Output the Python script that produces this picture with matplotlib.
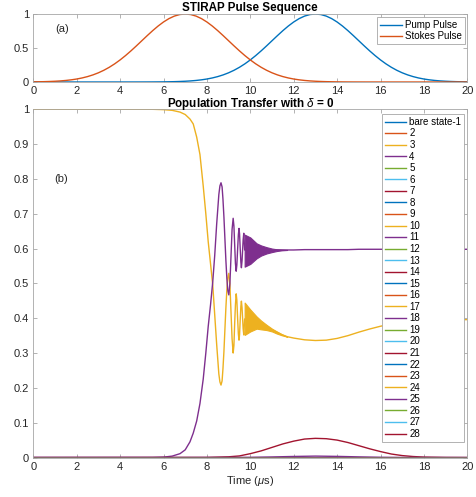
import numpy as np
import matplotlib
matplotlib.use("Agg")
import matplotlib.pyplot as plt

plt.rcParams["font.family"] = ["Liberation Sans", "DejaVu Sans"]
plt.rcParams["mathtext.fontset"] = "custom"
plt.rcParams["mathtext.it"] = "Liberation Sans:italic"
plt.rcParams["mathtext.rm"] = "Liberation Sans"

# ---------------- data ----------------
# MATLAB default colour order
colour_order = ["#0072BD", "#D95319", "#EDB120", "#7E2F8E", "#77AC30", "#4DBEEE", "#A2142F"]

# (a) pulse envelopes, sampled every 0.25 us from 0 to 20 us
t_pulse = np.linspace(0, 20, 81)
pump = [0, 0, 0, 0, 0, 0, 0, 0, 0, 0, 0, 0, 0, 0, 0, 0, 0,
        0.0001, 0.0001, 0.0002, 0.0003, 0.0005, 0.0009, 0.0014,
        0.0022, 0.0034, 0.0051, 0.0076, 0.0111, 0.0160, 0.0228, 0.0319, 0.0439, 0.0596,
        0.0796, 0.1046, 0.1353, 0.1724, 0.2163, 0.2671, 0.3247, 0.3886, 0.4578, 0.5311,
        0.6065, 0.6819, 0.7548, 0.8226, 0.8825, 0.9321, 0.9692, 0.9922, 1.0,
        0.9922, 0.9692, 0.9321, 0.8825, 0.8226, 0.7548, 0.6819, 0.6065, 0.5311, 0.4578,
        0.3886, 0.3247, 0.2671, 0.2163, 0.1724, 0.1353, 0.1046, 0.0796, 0.0596, 0.0439,
        0.0319, 0.0228, 0.0160, 0.0111, 0.0076, 0.0051, 0.0034, 0.0022]
stokes = [0.0022, 0.0034, 0.0051, 0.0076, 0.0111, 0.0160, 0.0228, 0.0319, 0.0439, 0.0596,
          0.0796, 0.1046, 0.1353, 0.1724, 0.2163, 0.2671, 0.3247, 0.3886, 0.4578, 0.5311,
          0.6065, 0.6819, 0.7548, 0.8226, 0.8825, 0.9321, 0.9692, 0.9922, 1.0,
          0.9922, 0.9692, 0.9321, 0.8825, 0.8226, 0.7548, 0.6819, 0.6065, 0.5311, 0.4578,
          0.3886, 0.3247, 0.2671, 0.2163, 0.1724, 0.1353, 0.1046, 0.0796, 0.0596, 0.0439,
          0.0319, 0.0228, 0.0160, 0.0111, 0.0076, 0.0051, 0.0034, 0.0022,
          0.0014, 0.0009, 0.0005, 0.0003, 0.0002, 0.0001, 0.0001,
          0, 0, 0, 0, 0, 0, 0, 0, 0, 0, 0, 0, 0, 0, 0, 0, 0]

# (b) populations of the states that get populated
t_main = [0.0, 5.5, 6.0, 6.4, 6.76, 7.0, 7.22, 7.37, 7.53, 7.68,
          7.83, 7.95, 8.06, 8.17, 8.27, 8.36, 8.45, 8.55, 8.60, 8.65,
          8.70, 8.74, 8.785, 8.83, 8.875, 8.92, 8.965, 9.01, 9.06, 9.11,
          9.16, 9.21, 9.245, 9.28, 9.315, 9.35, 9.38, 9.415, 9.45, 9.48,
          9.505, 9.535, 9.565, 9.59, 9.62, 9.645, 9.67, 9.70, 9.74, 10.0,
          10.29, 10.5, 10.75, 11.0, 11.22, 11.45, 11.7, 12.0, 12.5, 13.0,
          13.5, 14.0, 14.5, 15.0, 15.5, 16.0, 16.5, 17.0, 17.5, 18.0,
          19.0, 20.0]
pop_3 = [1.0, 1.0, 0.999, 0.997, 0.992, 0.985, 0.972, 0.958, 0.92, 0.87,
         0.78, 0.70, 0.62, 0.555, 0.495, 0.41, 0.325, 0.24, 0.217, 0.208,
         0.22, 0.255, 0.305, 0.368, 0.430, 0.482, 0.517, 0.529, 0.497, 0.419,
         0.341, 0.300, 0.322, 0.385, 0.439, 0.470, 0.452, 0.400, 0.355, 0.337,
         0.353, 0.396, 0.434, 0.449, 0.430, 0.400, 0.370, 0.352, 0.398, 0.393,
         0.388, 0.380, 0.373, 0.366, 0.360, 0.353, 0.347, 0.343, 0.338, 0.336,
         0.337, 0.342, 0.350, 0.360, 0.369, 0.377, 0.383, 0.388, 0.391, 0.393,
         0.395, 0.396]
pop_4 = [0, 0, 0.001, 0.004, 0.011, 0.022, 0.045, 0.07, 0.105, 0.155,
         0.225, 0.30, 0.376, 0.44, 0.505, 0.58, 0.67, 0.755, 0.78, 0.789,
         0.777, 0.742, 0.690, 0.628, 0.566, 0.514, 0.479, 0.467, 0.499, 0.577,
         0.655, 0.687, 0.665, 0.611, 0.557, 0.535, 0.553, 0.597, 0.640, 0.658,
         0.642, 0.600, 0.561, 0.545, 0.565, 0.595, 0.625, 0.644, 0.596, 0.595,
         0.594, 0.595, 0.595, 0.595, 0.596, 0.596, 0.596, 0.596, 0.597, 0.597,
         0.597, 0.597, 0.597, 0.598, 0.598, 0.598, 0.598, 0.598, 0.598, 0.598,
         0.598, 0.598]

# envelope of the fast ringing after the avoided crossing
t_band = [9.74, 10.0, 10.29, 10.5, 10.75, 11.0, 11.22, 11.45, 11.7]
pop_3_hi = [0.445, 0.425, 0.405, 0.393, 0.381, 0.370, 0.362, 0.354, 0.347]
pop_3_lo = [0.352, 0.362, 0.370, 0.368, 0.366, 0.362, 0.356, 0.351, 0.347]
pop_4_hi = [0.640, 0.632, 0.615, 0.609, 0.604, 0.600, 0.598, 0.597, 0.596]
pop_4_lo = [0.548, 0.556, 0.572, 0.580, 0.586, 0.590, 0.593, 0.595, 0.596]

t_7 = [0, 8, 9, 9.5, 10, 10.5, 11, 11.5, 12, 12.5, 13, 13.5, 14, 14.5, 15,
       15.5, 16, 16.5, 17, 17.5, 18, 19, 20]
pop_7 = [0, 0.0003, 0.002, 0.0045, 0.011, 0.019, 0.029, 0.039, 0.047, 0.053, 0.055,
         0.054, 0.050, 0.043, 0.034, 0.025, 0.017, 0.010, 0.0055, 0.0028, 0.0012,
         0.0002, 0]

t_11 = [0, 9, 10, 11, 12, 13, 14, 15, 16, 17, 20]
pop_11 = [0, 0.0002, 0.0006, 0.0016, 0.003, 0.004, 0.0032, 0.0018, 0.0007, 0.0002, 0]

# all remaining states stay empty
t_empty = [0, 20]
pop_empty = [0, 0]

n_states = 28
state_labels = ["bare state-1"] + [str(k) for k in range(2, n_states + 1)]
populated = {3: (t_main, pop_3), 4: (t_main, pop_4), 7: (t_7, pop_7), 11: (t_11, pop_11)}
bands = {3: (pop_3_lo, pop_3_hi), 4: (pop_4_lo, pop_4_hi)}

x_ticks = list(range(0, 21, 2))
y_ticks_a = [0, 0.5, 1]
y_ticklabels_a = ["0", "0.5", "1"]
y_ticks_b = [0, 0.1, 0.2, 0.3, 0.4, 0.5, 0.6, 0.7, 0.8, 0.9, 1.0]
y_ticklabels_b = ["0", "0.1", "0.2", "0.3", "0.4", "0.5", "0.6", "0.7", "0.8", "0.9", "1"]

# ---------------- figure ----------------
W, H = 476, 497
fig = plt.figure(figsize=(W / 100, H / 100), dpi=100)

frame_col = "#a6a6a6"
text_col = "#262626"


def style_axes(ax):
    for s in ax.spines.values():
        s.set_color(frame_col)
        s.set_linewidth(0.6)
    ax.tick_params(direction="in", length=3, width=0.6, color=frame_col,
                   labelsize=8, labelcolor=text_col, top=True, right=True, pad=3)


ax1 = fig.add_axes([33.3 / W, 1 - 82 / H, 434 / W, 68 / H])
ax1.plot(t_pulse, pump, color=colour_order[0], lw=1.0, label="Pump Pulse")
ax1.plot(t_pulse, stokes, color=colour_order[1], lw=1.0, label="Stokes Pulse")
ax1.set_xlim(0, 20)
ax1.set_ylim(0, 1)
ax1.set_xticks(x_ticks)
ax1.set_yticks(y_ticks_a)
ax1.set_yticklabels(y_ticklabels_a)
style_axes(ax1)
ax1.set_title("STIRAP Pulse Sequence", fontsize=8.4, fontweight="bold", pad=2, color="black")
ax1.text(1.0, 0.78, "(a)", fontsize=8, va="center", ha="left", color=text_col)
leg1 = ax1.legend(loc="upper right", bbox_to_anchor=(465 / W, 1 - 17 / H),
                  bbox_transform=fig.transFigure, fontsize=7, fancybox=False,
                  edgecolor=frame_col, framealpha=1, borderaxespad=0,
                  handlelength=2.3, handletextpad=0.3, labelspacing=0.15, borderpad=0.3)
leg1.get_frame().set_linewidth(0.6)

ax2 = fig.add_axes([33.3 / W, 1 - 457.5 / H, 434 / W, 348.2 / H])
handles = []
for k in range(1, n_states + 1):
    col = colour_order[(k - 1) % len(colour_order)]
    t, p = populated.get(k, (t_empty, pop_empty))
    (ln,) = ax2.plot(t, p, color=col, lw=1.0, label=state_labels[k - 1])
    if k in bands:
        lo, hi = bands[k]
        ax2.fill_between(t_band, lo, hi, color=col, lw=0.8, edgecolor=col)
    handles.append(ln)
ax2.set_xlim(0, 20)
ax2.set_ylim(0, 1)
ax2.set_xticks(x_ticks)
ax2.set_yticks(y_ticks_b)
ax2.set_yticklabels(y_ticklabels_b)
style_axes(ax2)
ax2.set_title("Population Transfer with $\\delta$ = 0", fontsize=8.4, fontweight="bold",
              pad=2, color="black")
ax2.set_xlabel("Time ($\\mu$s)", fontsize=8, color=text_col, labelpad=2)
ax2.text(0.95, 0.80, "(b)", fontsize=8, va="center", ha="left", color=text_col)
leg2 = ax2.legend(handles, state_labels, loc="upper left",
                  bbox_to_anchor=(382 / W, 1 - 114 / H), bbox_transform=fig.transFigure,
                  fontsize=7, fancybox=False, edgecolor=frame_col, framealpha=1,
                  borderaxespad=0, handlelength=2.2, handletextpad=0.3,
                  labelspacing=0.16, borderpad=0.3)
leg2.get_frame().set_linewidth(0.6)

fig.savefig("out.png", dpi=100)
